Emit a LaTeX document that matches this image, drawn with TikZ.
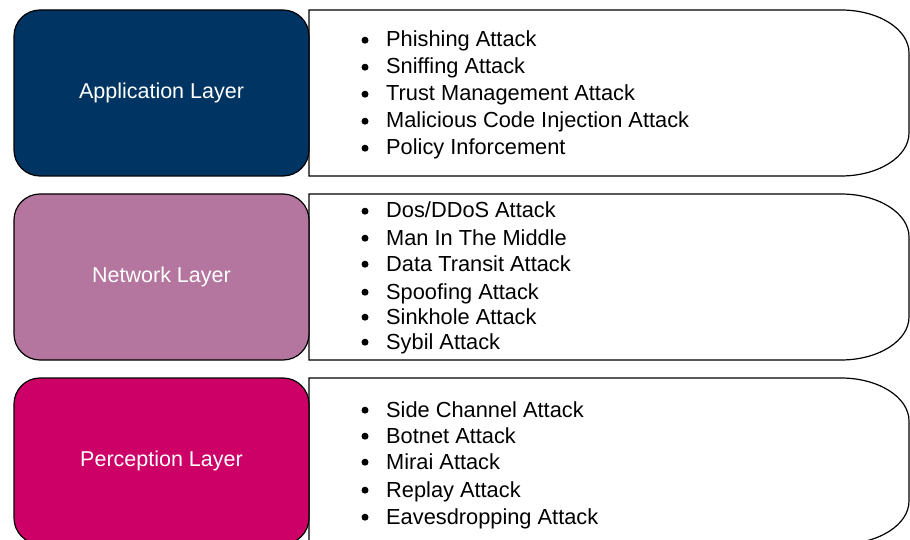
\documentclass[tikz,border=0pt]{standalone}
\usepackage{fontspec}
\setmainfont{Liberation Sans}
\definecolor{appblue}{HTML}{003462}
\definecolor{netmauve}{HTML}{B4759E}
\definecolor{percmag}{HTML}{CC0066}
\begin{document}
\begin{tikzpicture}[x=1pt,y=-1pt,
  layerbox/.style={draw=black, line width=1.2pt, rounded corners=26pt,
    minimum width=295pt, minimum height=166pt, inner sep=0pt,
    text=white, font=\fontsize{21.5}{25}\selectfont},
  panel/.style={draw=black, line width=1.2pt, fill=white},
  itemtext/.style={anchor=base west, inner sep=0pt, font=\fontsize{21.8}{25}\selectfont},
  bulletmark/.style={circle, fill=black, inner sep=0pt, minimum size=7pt}]
\useasboundingbox (0,0) rectangle (910,540);

% white panels with a flat left side and rounded right side
\foreach \t in {10,194,378}{
  \pgfmathsetmacro{\b}{\t+166}
  \draw[panel] (309,\t) -- (841,\t)
    .. controls (878.6,\t) and (909,\t+19.3) .. (909,\t+43)
    -- (909,\b-43)
    .. controls (909,\b-19.3) and (878.6,\b) .. (841,\b)
    -- (309,\b) -- cycle;
}

% layer boxes
\node[layerbox, fill=appblue]  (app)  at (161.5,93)  {Application Layer};
\node[layerbox, fill=netmauve] (net)  at (161.5,277) {Network Layer};
\node[layerbox, fill=percmag]  (perc) at (161.5,461) {Perception Layer};

% attack lists
\foreach \y/\txt [count=\i] in {47/Phishing Attack, 74/Sniffing Attack,
    101/Trust Management Attack, 128/Malicious Code Injection Attack,
    155/Policy Inforcement}{
  \node[bulletmark] (appb\i) at (365,\y-6.8) {};
  \node[itemtext] (appi\i) at (386,\y) {\txt};
}
\foreach \y/\txt [count=\i] in {218/Dos\slash DDoS Attack, 245/Man In The Middle,
    271/Data Transit Attack, 299/Spoofing Attack, 324/Sinkhole Attack,
    349/Sybil Attack}{
  \node[bulletmark] (netb\i) at (365,\y-6.8) {};
  \node[itemtext] (neti\i) at (386,\y) {\txt};
}
\foreach \y/\txt [count=\i] in {417/Side Channel Attack, 443/Botnet Attack,
    469/Mirai Attack, 497/Replay Attack, 524/Eavesdropping Attack}{
  \node[bulletmark] (percb\i) at (365,\y-6.8) {};
  \node[itemtext] (perci\i) at (386,\y) {\txt};
}
\end{tikzpicture}
\end{document}
